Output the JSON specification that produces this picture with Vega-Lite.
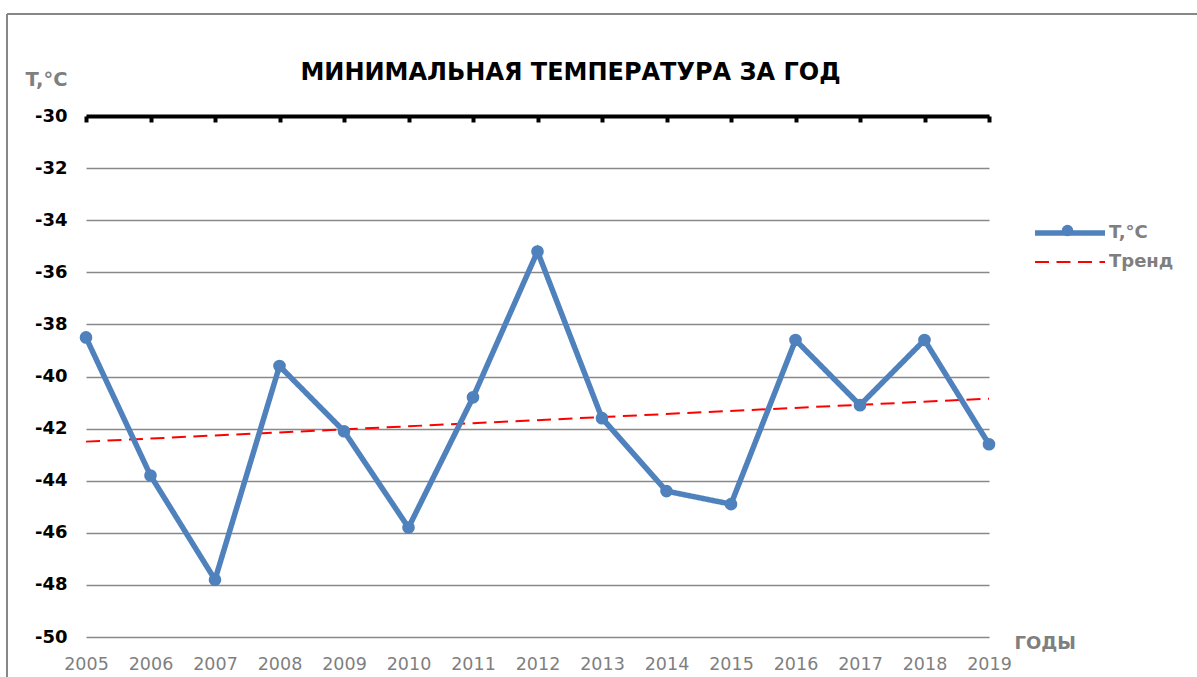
{
  "$schema": "https://vega.github.io/schema/vega-lite/v6.json",
  "width": 903,
  "height": 521,
  "autosize": {"type": "none"},
  "padding": {"left": 86, "top": 116, "right": 208, "bottom": 40},
  "background": "white",
  "config": {"view": {"stroke": null}, "font": "DejaVu Sans"},
  "title": {
    "text": "МИНИМАЛЬНАЯ ТЕМПЕРАТУРА ЗА ГОД",
    "font": "DejaVu Sans",
    "fontSize": 24,
    "fontWeight": "bold",
    "color": "#000000",
    "anchor": "middle",
    "frame": "group",
    "dx": 33,
    "offset": -72
  },
  "datasets": {
    "temps": [
      {"year": 2005, "value": -38.5, "series": "T,°C"},
      {"year": 2006, "value": -43.8, "series": "T,°C"},
      {"year": 2007, "value": -47.8, "series": "T,°C"},
      {"year": 2008, "value": -39.6, "series": "T,°C"},
      {"year": 2009, "value": -42.1, "series": "T,°C"},
      {"year": 2010, "value": -45.8, "series": "T,°C"},
      {"year": 2011, "value": -40.8, "series": "T,°C"},
      {"year": 2012, "value": -35.2, "series": "T,°C"},
      {"year": 2013, "value": -41.6, "series": "T,°C"},
      {"year": 2014, "value": -44.4, "series": "T,°C"},
      {"year": 2015, "value": -44.9, "series": "T,°C"},
      {"year": 2016, "value": -38.6, "series": "T,°C"},
      {"year": 2017, "value": -41.1, "series": "T,°C"},
      {"year": 2018, "value": -38.6, "series": "T,°C"},
      {"year": 2019, "value": -42.6, "series": "T,°C"}
    ],
    "trend": [
      {"year": 2005, "value": -42.5, "series": "Тренд"},
      {"year": 2019, "value": -40.85, "series": "Тренд"}
    ],
    "one": [{"k": 1}]
  },
  "resolve": {"axis": {"x": "independent", "y": "independent"}},
  "layer": [
    {
      "data": {"name": "one"},
      "mark": {"type": "rule", "color": "#878787", "strokeWidth": 2},
      "encoding": {
        "x": {"datum": 2003.775, "type": "quantitative", "scale": {"domain": [2005, 2019], "nice": false, "zero": false}, "axis": null},
        "x2": {"datum": 2022.3},
        "y": {"datum": -26.085, "type": "quantitative", "scale": {"domain": [-50, -30], "nice": false, "zero": false}, "axis": null}
      }
    },
    {
      "data": {"name": "one"},
      "mark": {"type": "rule", "color": "#878787", "strokeWidth": 2},
      "encoding": {
        "x": {"datum": 2003.775, "type": "quantitative", "scale": {"domain": [2005, 2019], "nice": false, "zero": false}, "axis": null},
        "y": {"datum": -26.085, "type": "quantitative", "scale": {"domain": [-50, -30], "nice": false, "zero": false}, "axis": null},
        "y2": {"datum": -51.6}
      }
    },
    {
      "data": {"name": "trend"},
      "mark": {"type": "line"},
      "encoding": {
        "x": {
          "field": "year", "type": "quantitative",
          "scale": {"domain": [2005, 2019], "nice": false, "zero": false},
          "axis": {
            "orient": "top",
            "values": [2005, 2006, 2007, 2008, 2009, 2010, 2011, 2012, 2013, 2014, 2015, 2016, 2017, 2018, 2019],
            "labels": false,
            "title": null,
            "grid": false,
            "domain": true,
            "domainColor": "#000000",
            "domainWidth": 4,
            "ticks": true,
            "tickColor": "#000000",
            "tickWidth": 4,
            "tickSize": -6,
            "zindex": 1
          }
        },
        "y": {
          "field": "value", "type": "quantitative",
          "scale": {"domain": [-50, -30], "nice": false, "zero": false},
          "axis": {
            "orient": "left",
            "values": [-50, -48, -46, -44, -42, -40, -38, -36, -34, -32, -30],
            "labelExpr": "toString(datum.value)",
            "grid": true,
            "gridColor": "#898989",
            "gridWidth": 1.5,
            "domain": false,
            "ticks": false,
            "tickSize": 0,
            "labelFont": "DejaVu Sans",
            "labelFontSize": 18,
            "labelFontWeight": "bold",
            "labelColor": "#000000",
            "labelPadding": 19,
            "labelBaseline": "middle",
            "title": "T,°C",
            "titleFont": "DejaVu Sans",
            "titleFontSize": 19.5,
            "titleFontWeight": "bold",
            "titleColor": "#7F7F7F",
            "titleAngle": 0,
            "titleAlign": "left",
            "titleBaseline": "alphabetic",
            "titleX": -61,
            "titleY": -31
          }
        },
        "color": {
          "field": "series", "type": "nominal",
          "scale": {"domain": ["T,°C", "Тренд"], "range": ["#4F81BD", "#FF0000"]},
          "legend": {
            "orient": "none",
            "legendX": 974,
            "legendY": 107,
            "title": null,
            "padding": 0,
            "symbolType": "M-5,0H5",
            "symbolSize": 196,
            "labelOffset": 29,
            "labelFont": "DejaVu Sans",
            "labelFontSize": 18,
            "labelFontWeight": "bold",
            "labelColor": "#7F7F7F",
            "rowPadding": 9
          }
        },
        "strokeDash": {
          "field": "series", "type": "nominal",
          "scale": {"domain": ["T,°C", "Тренд"], "range": [[1, 0], [14, 7.5]]}
        },
        "strokeWidth": {
          "field": "series", "type": "nominal",
          "scale": {"domain": ["T,°C", "Тренд"], "range": [5.5, 2]}
        }
      }
    },
    {
      "data": {"name": "temps"},
      "mark": {"type": "line"},
      "encoding": {
        "x": {
          "field": "year", "type": "quantitative",
          "scale": {"domain": [2005, 2019], "nice": false, "zero": false},
          "axis": {
            "orient": "bottom",
            "values": [2005, 2006, 2007, 2008, 2009, 2010, 2011, 2012, 2013, 2014, 2015, 2016, 2017, 2018, 2019],
            "format": "d",
            "grid": false,
            "domain": false,
            "ticks": false,
            "tickSize": 0,
            "labelFont": "DejaVu Sans",
            "labelFontSize": 17.5,
            "labelColor": "#7F7F7F",
            "labelBaseline": "alphabetic",
            "labelPadding": 32,
            "labelFlush": false,
            "labelOverlap": false,
            "title": "ГОДЫ",
            "titleFont": "DejaVu Sans",
            "titleFontSize": 18,
            "titleFontWeight": "bold",
            "titleColor": "#7F7F7F",
            "titleAlign": "left",
            "titleBaseline": "alphabetic",
            "titleX": 928,
            "titleY": 11
          }
        },
        "y": {
          "field": "value", "type": "quantitative",
          "scale": {"domain": [-50, -30], "nice": false, "zero": false},
          "axis": null
        },
        "color": {
          "field": "series", "type": "nominal",
          "scale": {"domain": ["T,°C", "Тренд"], "range": ["#4F81BD", "#FF0000"]}
        },
        "strokeDash": {
          "field": "series", "type": "nominal",
          "scale": {"domain": ["T,°C", "Тренд"], "range": [[1, 0], [14, 7.5]]}
        },
        "strokeWidth": {
          "field": "series", "type": "nominal",
          "scale": {"domain": ["T,°C", "Тренд"], "range": [5.5, 2]}
        }
      }
    },
    {
      "data": {"name": "temps"},
      "mark": {"type": "point", "filled": true, "color": "#4F81BD", "opacity": 1, "size": 160},
      "encoding": {
        "x": {"field": "year", "type": "quantitative", "scale": {"domain": [2005, 2019], "nice": false, "zero": false}, "axis": null},
        "y": {"field": "value", "type": "quantitative", "scale": {"domain": [-50, -30], "nice": false, "zero": false}, "axis": null},
        "shape": {
          "field": "series", "type": "nominal",
          "scale": {"domain": ["T,°C"], "range": ["circle"]},
          "legend": {
            "orient": "none",
            "legendX": 975,
            "legendY": 108,
            "title": null,
            "padding": 0,
            "symbolSize": 130,
            "symbolFillColor": "#4F81BD",
            "symbolStrokeColor": "#4F81BD",
            "symbolOpacity": 1,
            "labelExpr": "''"
          }
        }
      }
    }
  ]
}
